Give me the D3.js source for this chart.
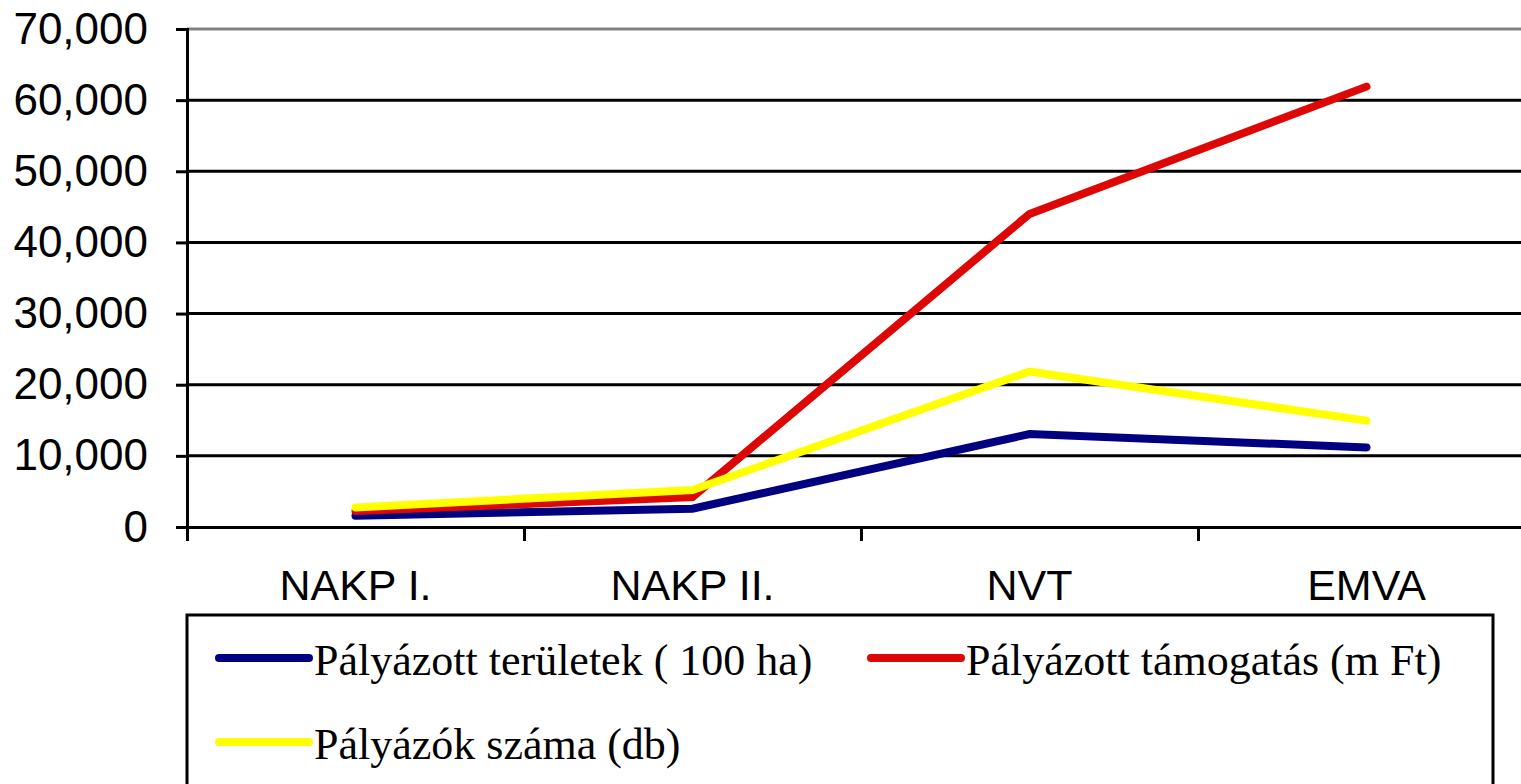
<!DOCTYPE html>
<html>
<head>
<meta charset="utf-8">
<script src="https://cdn.jsdelivr.net/npm/d3@7"></script>
<style>
  html, body { margin: 0; padding: 0; background: #fff; }
  svg { display: block; }
</style>
</head>
<body>
<div id="chart"></div>
<script>
// Chart data
const categories = ['NAKP I.', 'NAKP II.', 'NVT', 'EMVA'];
const seriesNames = ['Pályázott területek ( 100 ha)', 'Pályázott támogatás (m Ft)', 'Pályázók száma (db)'];
const teruletek = [1590, 2570, 13070, 11180];
const tamogatas = [2250, 4200, 44000, 61900];
const palyazok = [2750, 5200, 21850, 14950];
const yTicks = [0, 10000, 20000, 30000, 40000, 50000, 60000, 70000];

const colors = ['#000080', '#dd0806', '#ffff00'];
const series = [
    { name: seriesNames[0], values: teruletek, color: colors[0] },
    { name: seriesNames[1], values: tamogatas, color: colors[1] },
    { name: seriesNames[2], values: palyazok, color: colors[2] }
];

const width = 1521, height = 784;
const plot = { left: 187, top: 29, right: 1535, bottom: 527 };

const svg = d3.select('#chart')
    .append('svg')
    .attr('width', width)
    .attr('height', height);

// Scales
const x = d3.scaleBand()
    .domain(categories)
    .range([plot.left, plot.right])
    .padding(0);

const y = d3.scaleLinear()
    .domain([0, 70000])
    .range([plot.bottom, plot.top]);

// Gridlines
svg.append('g')
    .selectAll('line')
    .data(yTicks.filter(d => d > 0 && d < 70000))
    .enter()
    .append('line')
    .attr('x1', plot.left)
    .attr('x2', plot.right)
    .attr('y1', d => y(d))
    .attr('y2', d => y(d))
    .attr('stroke', '#000')
    .attr('stroke-width', 3);

// Plot area top border (grey)
svg.append('line')
    .attr('x1', plot.left)
    .attr('x2', plot.right)
    .attr('y1', y(70000))
    .attr('y2', y(70000))
    .attr('stroke', '#808080')
    .attr('stroke-width', 3);

// Y axis
const yAxis = svg.append('g')
    .attr('transform', `translate(${plot.left},0)`)
    .call(d3.axisLeft(y).tickValues(yTicks).tickSize(11).tickPadding(28).tickFormat(d3.format(',')));
yAxis.select('.domain').attr('stroke', '#000').attr('stroke-width', 3);
yAxis.selectAll('.tick line').attr('stroke', '#000').attr('stroke-width', 3);
yAxis.selectAll('.tick text')
    .attr('fill', '#000')
    .style('font-family', '"Liberation Sans", Arial, sans-serif')
    .style('font-size', '44px');

// X axis
const xTickScale = d3.scaleLinear().domain([0, categories.length]).range([plot.left, plot.right]);
const xAxis = svg.append('g')
    .attr('transform', `translate(0,${plot.bottom})`)
    .call(d3.axisBottom(xTickScale).tickValues(d3.range(categories.length + 1)).tickSize(14).tickFormat(''));
xAxis.select('.domain').attr('stroke', '#000').attr('stroke-width', 3);
xAxis.selectAll('.tick line').attr('stroke', '#000').attr('stroke-width', 3);

svg.append('g')
    .selectAll('text')
    .data(categories)
    .enter()
    .append('text')
    .attr('x', d => x(d) + x.bandwidth() / 2)
    .attr('y', 600)
    .attr('text-anchor', 'middle')
    .style('font-family', '"Liberation Sans", Arial, sans-serif')
    .style('font-size', '43px')
    .text(d => d);

// Lines
const line = d3.line()
    .x((d, i) => x(categories[i]) + x.bandwidth() / 2)
    .y(d => y(d));

svg.append('g')
    .selectAll('path')
    .data(series)
    .enter()
    .append('path')
    .attr('d', d => line(d.values))
    .attr('fill', 'none')
    .attr('stroke', d => d.color)
    .attr('stroke-width', 8)
    .attr('stroke-linecap', 'round')
    .attr('stroke-linejoin', 'miter');

// Legend
const legend = svg.append('g');
legend.append('rect')
    .attr('x', 187)
    .attr('y', 615)
    .attr('width', 1306)
    .attr('height', 200)
    .attr('fill', '#fff')
    .attr('stroke', '#000')
    .attr('stroke-width', 3);

const legendPos = [
    { x: 219, y: 658 },
    { x: 871, y: 658 },
    { x: 219, y: 742 }
];

const items = legend.selectAll('.item')
    .data(series)
    .enter()
    .append('g')
    .attr('class', 'item')
    .attr('transform', (d, i) => `translate(${legendPos[i].x},${legendPos[i].y})`);

items.append('line')
    .attr('x1', 0)
    .attr('x2', 90)
    .attr('y1', 0)
    .attr('y2', 0)
    .attr('stroke', d => d.color)
    .attr('stroke-width', 8)
    .attr('stroke-linecap', 'round');

items.append('text')
    .attr('x', 95)
    .attr('y', 17)
    .style('font-family', '"Liberation Serif", "Times New Roman", serif')
    .style('font-size', '44px')
    .text(d => d.name);
</script>
</body>
</html>
